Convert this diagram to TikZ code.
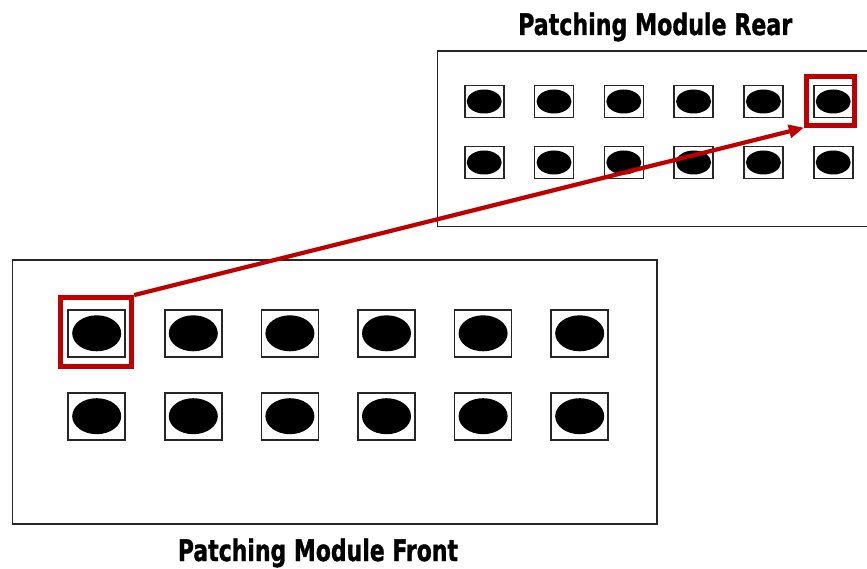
\documentclass[tikz,border=0pt]{standalone}
\usepackage{fontspec}
\newfontfamily\titlefont{DejaVu Sans Condensed}[BoldFeatures={FakeBold=1.2}]
\usetikzlibrary{arrows.meta}
\definecolor{hlred}{HTML}{C00000}
\definecolor{edge}{HTML}{262626}
\begin{document}
\begin{tikzpicture}[x=1pt,y=-1pt,
  panel/.style={draw=edge,line width=1.7pt,fill=none},
  fsq/.style={draw=edge,line width=1.7pt,minimum width=57pt,minimum height=47pt,inner sep=0pt,
    path picture={\fill[black] (path picture bounding box.center) ellipse (24.5pt and 18pt);}},
  rsq/.style={draw=edge,line width=1.6pt,minimum width=39pt,minimum height=32pt,inner sep=0pt,
    path picture={\fill[black] (path picture bounding box.center) ellipse (17.5pt and 12pt);}},
  hl/.style={draw=hlred,line width=4.8pt,inner sep=0pt},
  title/.style={inner sep=0pt,anchor=base west,font=\titlefont\bfseries}]
\path[use as bounding box] (0,0) rectangle (867,569);
\clip (0,0) rectangle (867,569);
% panels
\draw[panel] (12.5,260) rectangle (657,524);
\draw[panel] (437.5,51) rectangle (900,226.5);
% front ports
\foreach \i in {0,...,5}{
  \node[fsq] (f1-\i) at ({96.7+96.6*\i},333.3) {};
  \node[fsq] (f2-\i) at ({96.7+96.6*\i},416.2) {};
}
% rear ports
\foreach \i in {0,...,5}{
  \node[rsq] (r1-\i) at ({484.2+69.8*\i},101.5) {};
  \node[rsq] (r2-\i) at ({484.2+69.8*\i},162.5) {};
}
% highlights
\node[hl,minimum width=71pt,minimum height=69pt] (fh) at (96.2,332) {};
\node[hl,minimum width=48pt,minimum height=49pt] (rh) at (830.3,100.8) {};
% arrow
\draw[hlred,line width=4.2pt,-{Triangle[length=15pt,width=13pt]}] (fh.north east) -- (rh.south west);
% titles
\node[title] (reartitle) at (518,35) {\resizebox{274pt}{22.5pt}{Patching Module Rear}};
\node[title] (fronttitle) at (177.7,561) {\resizebox{280pt}{22.5pt}{Patching Module Front}};
\end{tikzpicture}
\end{document}
